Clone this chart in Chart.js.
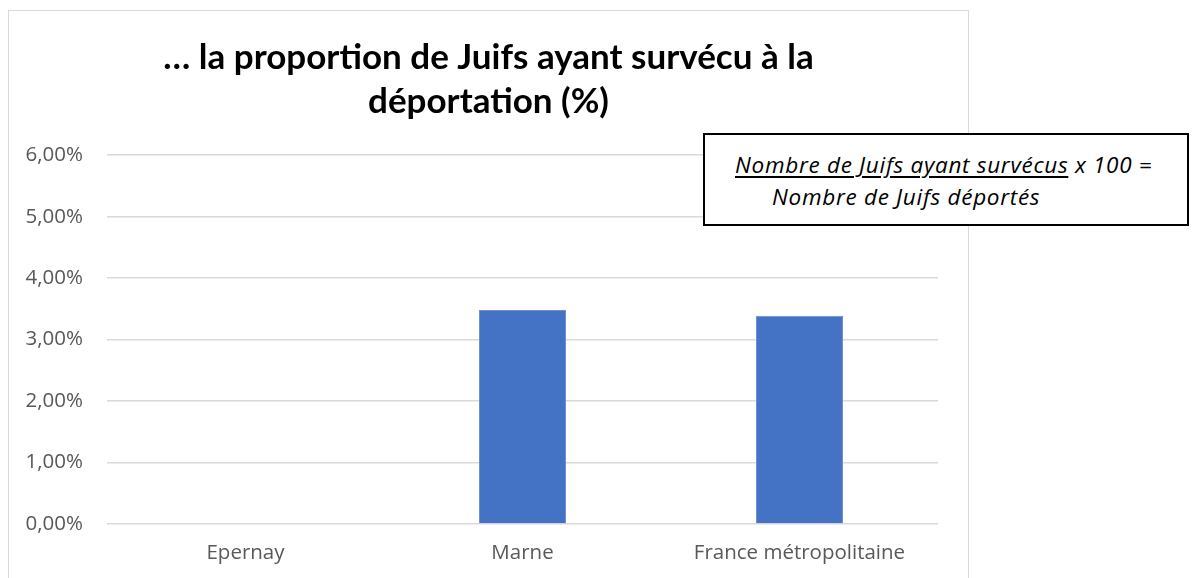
<!DOCTYPE html>
<html>
<head>
<meta charset="utf-8">
<script src="https://cdn.jsdelivr.net/npm/chart.js@4/dist/chart.umd.min.js"></script>
<style>
  html, body { margin: 0; padding: 0; background: #ffffff; overflow: hidden; }
  body { width: 1195px; height: 578px; position: relative; }
  #frame { position: absolute; left: 8px; top: 10px; width: 961px; height: 580px; border: 1px solid #d9d9d9; box-sizing: border-box; }
  #wrap { position: absolute; left: 10px; top: 11px; width: 957px; height: 567px; }
  #note { position: absolute; left: 703px; top: 133px; width: 486px; height: 93px; box-sizing: border-box;
          border: 2px solid #000; background: #fff; font-family: "Open Sans", "Noto Sans", sans-serif; font-style: italic;
          font-size: 22.5px; letter-spacing: 0.7px; color: #000; line-height: 32px; padding-top: 14px; }
  #note .l1 { padding-left: 30px; white-space: nowrap; }
  #note .l2 { padding-left: 67px; white-space: nowrap; }
  #note u { text-decoration-thickness: 2px; text-underline-offset: 3px; }
</style>
</head>
<body>
<div id="frame"></div>
<div id="wrap"><canvas id="c"></canvas></div>
<div id="note"><div class="l1"><u>Nombre de Juifs ayant survécus</u> x 100 =</div><div class="l2">Nombre de Juifs déportés</div></div>
<script>
const categories = ["Epernay", "Marne", "France métropolitaine"];
const survivalPct = [0, 3.48, 3.39];
const yTicks = [0, 1, 2, 3, 4, 5, 6];
const titleLines = ["… la proportion de Juifs ayant survécu à la", "déportation (%)"];

const TITLE_FONT = 'Lato, "Noto Sans", sans-serif';
const TICK_FONT = '"Open Sans", "Noto Sans", sans-serif';

new Chart(document.getElementById('c'), {
  type: 'bar',
  data: {
    labels: categories,
    datasets: [{
      data: survivalPct,
      backgroundColor: '#4472c4',
      borderColor: '#6d8fd0',
      borderWidth: 1,
      categoryPercentage: 1,
      barPercentage: 0.314
    }]
  },
  options: {
    responsive: true,
    maintainAspectRatio: false,
    animation: false,
    layout: { padding: 0 },
    plugins: {
      legend: { display: false },
      tooltip: { enabled: false },
      title: {
        display: true,
        text: titleLines,
        color: '#000000',
        font: { family: TITLE_FONT, size: 35, weight: 'bold', lineHeight: 1.26 },
        padding: { top: 25, bottom: 31 }
      }
    },
    scales: {
      x: {
        grid: { display: false, drawTicks: false },
        border: { display: false },
        ticks: { color: '#595959', font: { family: TICK_FONT, size: 20.5 }, padding: 17 },
        afterFit: s => { s.height = 54; }
      },
      y: {
        min: 0, max: 6,
        afterBuildTicks: s => { s.ticks = yTicks.map(v => ({ value: v })); },
        grid: { color: '#d9d9d9', lineWidth: 1.5, drawTicks: false },
        border: { display: false },
        ticks: {
          color: '#595959', font: { family: TICK_FONT, size: 20.5 }, padding: 24,
          callback: v => v.toFixed(2).replace('.', ',') + '%'
        },
        afterFit: s => { s.width = 97; }
      },
      yr: {
        position: 'right',
        display: true,
        grid: { display: false, drawTicks: false },
        border: { display: false },
        ticks: { display: false },
        afterFit: s => { s.width = 29; }
      }
    }
  }
});
</script>
</body>
</html>
